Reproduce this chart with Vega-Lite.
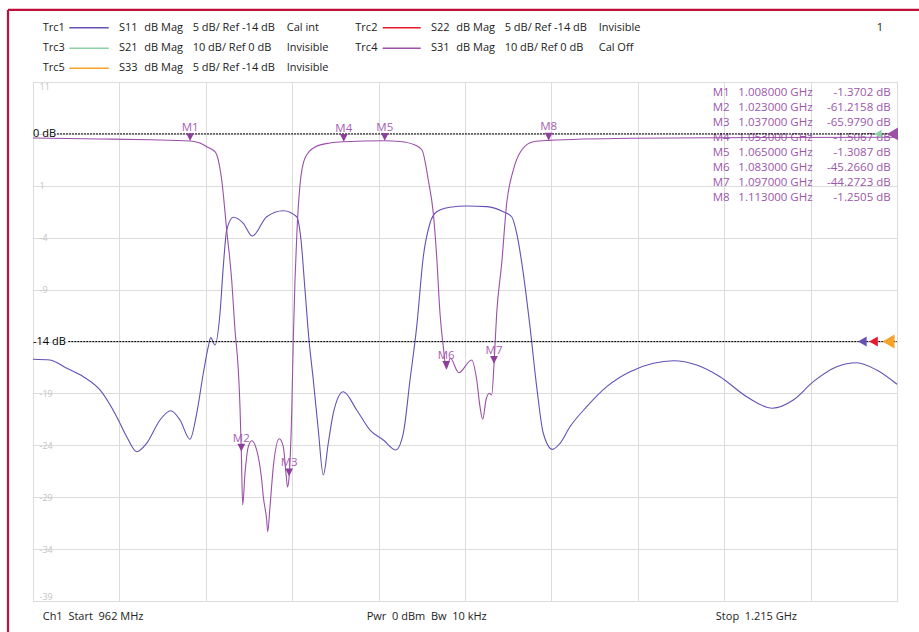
{
  "$schema": "https://vega.github.io/schema/vega-lite/v6.json",
  "width": 864,
  "height": 519,
  "autosize": {"type": "none"},
  "padding": {"left": 33, "top": 82, "right": 22, "bottom": 31},
  "background": "#ffffff",
  "config": {"view": {"stroke": "#dcdcdc", "strokeWidth": 1}, "font": "Open Sans", "text": {"font": "Open Sans", "fontSize": 11, "color": "#222222", "align": "left", "baseline": "middle"}},
  "data": {"values": [{}]},
  "datasets": {
    "s11": [
      {"f": 962.0, "dB": -15.71}, {"f": 966.98, "dB": -15.78}, {"f": 971.87, "dB": -16.58}, {"f": 976.73, "dB": -17.39},
      {"f": 981.62, "dB": -18.67}, {"f": 986.51, "dB": -21.24}, {"f": 989.44, "dB": -23.17}, {"f": 992.37, "dB": -24.62},
      {"f": 995.29, "dB": -23.81}, {"f": 999.19, "dB": -21.56}, {"f": 1002.32, "dB": -20.67}, {"f": 1005.05, "dB": -21.56},
      {"f": 1007.97, "dB": -23.42}, {"f": 1009.94, "dB": -20.92}, {"f": 1011.87, "dB": -17.06}, {"f": 1013.33, "dB": -14.5},
      {"f": 1014.04, "dB": -13.63}, {"f": 1015.29, "dB": -14.34}, {"f": 1016.76, "dB": -11.28}, {"f": 1017.72, "dB": -6.79},
      {"f": 1018.72, "dB": -3.26}, {"f": 1020.65, "dB": -2.03}, {"f": 1023.58, "dB": -2.61}, {"f": 1026.22, "dB": -3.84},
      {"f": 1030.43, "dB": -1.98}, {"f": 1035.3, "dB": -1.4}, {"f": 1039.22, "dB": -1.98}, {"f": 1040.48, "dB": -4.22},
      {"f": 1041.65, "dB": -9.04}, {"f": 1042.82, "dB": -13.86}, {"f": 1044.08, "dB": -17.71}, {"f": 1045.54, "dB": -22.53},
      {"f": 1047.01, "dB": -26.86}, {"f": 1048.47, "dB": -23.78}, {"f": 1049.94, "dB": -20.89}, {"f": 1052.86, "dB": -18.84},
      {"f": 1056.79, "dB": -20.6}, {"f": 1060.68, "dB": -22.53}, {"f": 1064.58, "dB": -23.49}, {"f": 1068.21, "dB": -24.45},
      {"f": 1070.43, "dB": -22.84}, {"f": 1072.4, "dB": -17.71}, {"f": 1074.36, "dB": -12.57}, {"f": 1076.29, "dB": -5.83},
      {"f": 1078.25, "dB": -2.61}, {"f": 1080.21, "dB": -1.5}, {"f": 1084.11, "dB": -1.07}, {"f": 1089.0, "dB": -0.95},
      {"f": 1094.86, "dB": -1.01}, {"f": 1099.72, "dB": -1.5}, {"f": 1102.18, "dB": -1.98}, {"f": 1103.64, "dB": -3.58},
      {"f": 1105.57, "dB": -7.43}, {"f": 1107.53, "dB": -12.57}, {"f": 1109.49, "dB": -18.35}, {"f": 1111.43, "dB": -22.84},
      {"f": 1114.12, "dB": -24.39}, {"f": 1116.32, "dB": -23.81}, {"f": 1119.25, "dB": -22.21}, {"f": 1124.14, "dB": -20.28},
      {"f": 1130.0, "dB": -18.35}, {"f": 1136.82, "dB": -16.91}, {"f": 1143.64, "dB": -16.1}, {"f": 1149.5, "dB": -15.85},
      {"f": 1156.35, "dB": -16.26}, {"f": 1163.17, "dB": -17.39}, {"f": 1170.99, "dB": -19.32}, {"f": 1178.49, "dB": -20.43},
      {"f": 1184.63, "dB": -19.64}, {"f": 1190.49, "dB": -17.87}, {"f": 1197.34, "dB": -16.43}, {"f": 1203.2, "dB": -16.04},
      {"f": 1209.06, "dB": -16.75}, {"f": 1215.0, "dB": -18.12}
    ],
    "s31": [
      {"f": 962.0, "dB": -0.79}, {"f": 981.62, "dB": -0.98}, {"f": 996.26, "dB": -1.14}, {"f": 1008.0, "dB": -1.37},
      {"f": 1010.9, "dB": -1.75}, {"f": 1012.86, "dB": -2.47}, {"f": 1015.29, "dB": -3.43}, {"f": 1016.26, "dB": -5.03},
      {"f": 1017.26, "dB": -8.88}, {"f": 1018.72, "dB": -18.52}, {"f": 1020.18, "dB": -28.15}, {"f": 1021.15, "dB": -37.78},
      {"f": 1022.12, "dB": -45.49}, {"f": 1022.61, "dB": -52.56}, {"f": 1023.0, "dB": -61.22}, {"f": 1023.4, "dB": -71.5},
      {"f": 1024.08, "dB": -65.4}, {"f": 1025.05, "dB": -60.27}, {"f": 1026.04, "dB": -59.11}, {"f": 1027.51, "dB": -60.91},
      {"f": 1028.97, "dB": -66.69}, {"f": 1029.44, "dB": -69.9}, {"f": 1030.43, "dB": -74.39}, {"f": 1030.73, "dB": -76.65},
      {"f": 1031.4, "dB": -71.83}, {"f": 1032.37, "dB": -64.12}, {"f": 1034.12, "dB": -58.73}, {"f": 1035.29, "dB": -60.27},
      {"f": 1036.08, "dB": -65.4}, {"f": 1036.52, "dB": -68.03}, {"f": 1037.0, "dB": -65.98}, {"f": 1037.75, "dB": -53.83},
      {"f": 1038.22, "dB": -39.71}, {"f": 1038.72, "dB": -28.15}, {"f": 1039.31, "dB": -18.52}, {"f": 1040.18, "dB": -9.85},
      {"f": 1041.65, "dB": -4.64}, {"f": 1044.58, "dB": -2.52}, {"f": 1048.97, "dB": -1.75}, {"f": 1053.0, "dB": -1.51},
      {"f": 1065.0, "dB": -1.31}, {"f": 1069.47, "dB": -1.46}, {"f": 1073.86, "dB": -2.14}, {"f": 1075.91, "dB": -3.1},
      {"f": 1077.75, "dB": -8.88}, {"f": 1079.22, "dB": -15.3}, {"f": 1080.21, "dB": -23.66}, {"f": 1081.18, "dB": -34.57},
      {"f": 1082.14, "dB": -41.0}, {"f": 1083.0, "dB": -45.27}, {"f": 1084.22, "dB": -43.24}, {"f": 1086.66, "dB": -46.01},
      {"f": 1090.46, "dB": -43.56}, {"f": 1091.93, "dB": -47.42}, {"f": 1092.89, "dB": -52.56}, {"f": 1093.68, "dB": -54.99},
      {"f": 1094.65, "dB": -51.27}, {"f": 1095.62, "dB": -49.98}, {"f": 1096.32, "dB": -50.31}, {"f": 1097.0, "dB": -44.27},
      {"f": 1097.78, "dB": -34.57}, {"f": 1099.25, "dB": -24.93}, {"f": 1100.71, "dB": -13.37}, {"f": 1102.64, "dB": -6.96},
      {"f": 1105.1, "dB": -3.1}, {"f": 1108.5, "dB": -1.5}, {"f": 1113.0, "dB": -1.25}, {"f": 1136.82, "dB": -0.85},
      {"f": 1174.88, "dB": -0.69}, {"f": 1215.0, "dB": -0.65}
    ],
    "markers": [
      {"m": "M1", "f": 1008, "dB": -1.3702},
      {"m": "M2", "f": 1023, "dB": -61.2158},
      {"m": "M3", "f": 1037, "dB": -65.979},
      {"m": "M4", "f": 1053, "dB": -1.5067},
      {"m": "M5", "f": 1065, "dB": -1.3087},
      {"m": "M6", "f": 1083, "dB": -45.266},
      {"m": "M7", "f": 1097, "dB": -44.2723},
      {"m": "M8", "f": 1113, "dB": -1.2505}
    ]
  },
  "layer": [
    {
      "layer": [
        {
          "data": {"name": "s11"},
          "mark": {"type": "line", "color": "#6650B4", "strokeWidth": 1.1, "interpolate": "monotone"},
          "encoding": {
            "x": {"field": "f", "type": "quantitative", "scale": {"domain": [962, 1215], "nice": false, "zero": false},
              "axis": {"values": [962, 987.3, 1012.6, 1037.9, 1063.2, 1088.5, 1113.8, 1139.1, 1164.4, 1189.7, 1215], "labels": false, "ticks": false, "domain": false, "title": null, "grid": true, "gridColor": "#dcdcdc"}},
            "y": {"field": "dB", "type": "quantitative", "scale": {"domain": [-39, 11], "nice": false, "zero": false},
              "axis": {"values": [11, 6, 1, -4, -9, -14, -19, -24, -29, -34, -39], "labelExpr": "datum.value == 6 || datum.value == -14 ? '' : '' + datum.value", "labelAlign": "left", "labelPadding": -6, "ticks": false, "domain": false, "title": null, "grid": true, "gridColor": "#dcdcdc", "labelColor": "#c4c4c4", "labelFontSize": 9, "labelFlush": true}}
          }
        },
        {"mark": {"type": "rule", "color": "#000000", "strokeDash": [2, 1], "strokeWidth": 1}, "encoding": {"x": {"datum": 972.34}, "x2": {"datum": 1215}, "y": {"datum": -14}}},
        {"mark": {"type": "text", "text": "-14 dB", "color": "#000000"}, "encoding": {"x": {"datum": 962}, "y": {"datum": -14}}},
        {"mark": {"type": "point", "shape": "triangle-left", "filled": true, "opacity": 1, "size": 100, "color": "#6650B4"}, "encoding": {"x": {"datum": 1204.84}, "y": {"datum": -14}}},
        {"mark": {"type": "point", "shape": "triangle-left", "filled": true, "opacity": 1, "size": 100, "color": "#E8192C"}, "encoding": {"x": {"datum": 1208.12}, "y": {"datum": -14}}},
        {"mark": {"type": "point", "shape": "triangle-left", "filled": true, "opacity": 1, "size": 196, "color": "#F6A32B"}, "encoding": {"x": {"datum": 1212.51}, "y": {"datum": -14}}},

        {"data": {"values": [{"t": "M1"}]}, "mark": {"type": "text", "fontSize": 11.5, "color": "#9C56AA"}, "encoding": {"x": {"datum": 1161.03}, "y": {"datum": 9.91}, "text": {"field": "t"}}},
        {"data": {"values": [{"t": "1.008000 GHz"}]}, "mark": {"type": "text", "fontSize": 11.5, "color": "#9C56AA"}, "encoding": {"x": {"datum": 1168.53}, "y": {"datum": 9.91}, "text": {"field": "t"}}},
        {"data": {"values": [{"t": "-1.3702 dB"}]}, "mark": {"type": "text", "align": "right", "fontSize": 11.5, "color": "#9C56AA"}, "encoding": {"x": {"datum": 1213.15}, "y": {"datum": 9.91}, "text": {"field": "t"}}},
        {"data": {"values": [{"t": "M2"}]}, "mark": {"type": "text", "fontSize": 11.5, "color": "#9C56AA"}, "encoding": {"x": {"datum": 1161.03}, "y": {"datum": 8.47}, "text": {"field": "t"}}},
        {"data": {"values": [{"t": "1.023000 GHz"}]}, "mark": {"type": "text", "fontSize": 11.5, "color": "#9C56AA"}, "encoding": {"x": {"datum": 1168.53}, "y": {"datum": 8.47}, "text": {"field": "t"}}},
        {"data": {"values": [{"t": "-61.2158 dB"}]}, "mark": {"type": "text", "align": "right", "fontSize": 11.5, "color": "#9C56AA"}, "encoding": {"x": {"datum": 1213.15}, "y": {"datum": 8.47}, "text": {"field": "t"}}},
        {"data": {"values": [{"t": "M3"}]}, "mark": {"type": "text", "fontSize": 11.5, "color": "#9C56AA"}, "encoding": {"x": {"datum": 1161.03}, "y": {"datum": 7.02}, "text": {"field": "t"}}},
        {"data": {"values": [{"t": "1.037000 GHz"}]}, "mark": {"type": "text", "fontSize": 11.5, "color": "#9C56AA"}, "encoding": {"x": {"datum": 1168.53}, "y": {"datum": 7.02}, "text": {"field": "t"}}},
        {"data": {"values": [{"t": "-65.9790 dB"}]}, "mark": {"type": "text", "align": "right", "fontSize": 11.5, "color": "#9C56AA"}, "encoding": {"x": {"datum": 1213.15}, "y": {"datum": 7.02}, "text": {"field": "t"}}},
        {"data": {"values": [{"t": "M4"}]}, "mark": {"type": "text", "fontSize": 11.5, "color": "#9C56AA"}, "encoding": {"x": {"datum": 1161.03}, "y": {"datum": 5.58}, "text": {"field": "t"}}},
        {"data": {"values": [{"t": "1.053000 GHz"}]}, "mark": {"type": "text", "fontSize": 11.5, "color": "#9C56AA"}, "encoding": {"x": {"datum": 1168.53}, "y": {"datum": 5.58}, "text": {"field": "t"}}},
        {"data": {"values": [{"t": "-1.5067 dB"}]}, "mark": {"type": "text", "align": "right", "fontSize": 11.5, "color": "#9C56AA"}, "encoding": {"x": {"datum": 1213.15}, "y": {"datum": 5.58}, "text": {"field": "t"}}},
        {"data": {"values": [{"t": "M5"}]}, "mark": {"type": "text", "fontSize": 11.5, "color": "#9C56AA"}, "encoding": {"x": {"datum": 1161.03}, "y": {"datum": 4.13}, "text": {"field": "t"}}},
        {"data": {"values": [{"t": "1.065000 GHz"}]}, "mark": {"type": "text", "fontSize": 11.5, "color": "#9C56AA"}, "encoding": {"x": {"datum": 1168.53}, "y": {"datum": 4.13}, "text": {"field": "t"}}},
        {"data": {"values": [{"t": "-1.3087 dB"}]}, "mark": {"type": "text", "align": "right", "fontSize": 11.5, "color": "#9C56AA"}, "encoding": {"x": {"datum": 1213.15}, "y": {"datum": 4.13}, "text": {"field": "t"}}},
        {"data": {"values": [{"t": "M6"}]}, "mark": {"type": "text", "fontSize": 11.5, "color": "#9C56AA"}, "encoding": {"x": {"datum": 1161.03}, "y": {"datum": 2.69}, "text": {"field": "t"}}},
        {"data": {"values": [{"t": "1.083000 GHz"}]}, "mark": {"type": "text", "fontSize": 11.5, "color": "#9C56AA"}, "encoding": {"x": {"datum": 1168.53}, "y": {"datum": 2.69}, "text": {"field": "t"}}},
        {"data": {"values": [{"t": "-45.2660 dB"}]}, "mark": {"type": "text", "align": "right", "fontSize": 11.5, "color": "#9C56AA"}, "encoding": {"x": {"datum": 1213.15}, "y": {"datum": 2.69}, "text": {"field": "t"}}},
        {"data": {"values": [{"t": "M7"}]}, "mark": {"type": "text", "fontSize": 11.5, "color": "#9C56AA"}, "encoding": {"x": {"datum": 1161.03}, "y": {"datum": 1.24}, "text": {"field": "t"}}},
        {"data": {"values": [{"t": "1.097000 GHz"}]}, "mark": {"type": "text", "fontSize": 11.5, "color": "#9C56AA"}, "encoding": {"x": {"datum": 1168.53}, "y": {"datum": 1.24}, "text": {"field": "t"}}},
        {"data": {"values": [{"t": "-44.2723 dB"}]}, "mark": {"type": "text", "align": "right", "fontSize": 11.5, "color": "#9C56AA"}, "encoding": {"x": {"datum": 1213.15}, "y": {"datum": 1.24}, "text": {"field": "t"}}},
        {"data": {"values": [{"t": "M8"}]}, "mark": {"type": "text", "fontSize": 11.5, "color": "#9C56AA"}, "encoding": {"x": {"datum": 1161.03}, "y": {"datum": -0.2}, "text": {"field": "t"}}},
        {"data": {"values": [{"t": "1.113000 GHz"}]}, "mark": {"type": "text", "fontSize": 11.5, "color": "#9C56AA"}, "encoding": {"x": {"datum": 1168.53}, "y": {"datum": -0.2}, "text": {"field": "t"}}},
        {"data": {"values": [{"t": "-1.2505 dB"}]}, "mark": {"type": "text", "align": "right", "fontSize": 11.5, "color": "#9C56AA"}, "encoding": {"x": {"datum": 1213.15}, "y": {"datum": -0.2}, "text": {"field": "t"}}},

        {"data": {"values": [{"t": "Trc1"}]}, "mark": {"type": "text"}, "encoding": {"x": {"datum": 964.84}, "y": {"datum": 16.23}, "text": {"field": "t"}}},
        {"mark": {"type": "rule", "strokeWidth": 1.5, "color": "#6650B4"}, "encoding": {"x": {"datum": 972.63}, "x2": {"datum": 984.17}, "y": {"datum": 16.23}}},
        {"data": {"values": [{"t": "S11"}]}, "mark": {"type": "text"}, "encoding": {"x": {"datum": 987.18}, "y": {"datum": 16.23}, "text": {"field": "t"}}},
        {"data": {"values": [{"t": "dB Mag"}]}, "mark": {"type": "text"}, "encoding": {"x": {"datum": 994.59}, "y": {"datum": 16.23}, "text": {"field": "t"}}},
        {"data": {"values": [{"t": "5 dB/ Ref -14 dB"}]}, "mark": {"type": "text"}, "encoding": {"x": {"datum": 1008.76}, "y": {"datum": 16.23}, "text": {"field": "t"}}},
        {"data": {"values": [{"t": "Cal int"}]}, "mark": {"type": "text"}, "encoding": {"x": {"datum": 1036.29}, "y": {"datum": 16.23}, "text": {"field": "t"}}},

        {"data": {"values": [{"t": "Trc3"}]}, "mark": {"type": "text"}, "encoding": {"x": {"datum": 964.84}, "y": {"datum": 14.25}, "text": {"field": "t"}}},
        {"mark": {"type": "rule", "strokeWidth": 1.5, "color": "#8DD1A6"}, "encoding": {"x": {"datum": 972.63}, "x2": {"datum": 984.17}, "y": {"datum": 14.25}}},
        {"data": {"values": [{"t": "S21"}]}, "mark": {"type": "text"}, "encoding": {"x": {"datum": 987.18}, "y": {"datum": 14.25}, "text": {"field": "t"}}},
        {"data": {"values": [{"t": "dB Mag"}]}, "mark": {"type": "text"}, "encoding": {"x": {"datum": 994.59}, "y": {"datum": 14.25}, "text": {"field": "t"}}},
        {"data": {"values": [{"t": "10 dB/ Ref 0 dB"}]}, "mark": {"type": "text"}, "encoding": {"x": {"datum": 1008.76}, "y": {"datum": 14.25}, "text": {"field": "t"}}},
        {"data": {"values": [{"t": "Invisible"}]}, "mark": {"type": "text"}, "encoding": {"x": {"datum": 1036.29}, "y": {"datum": 14.25}, "text": {"field": "t"}}},

        {"data": {"values": [{"t": "Trc5"}]}, "mark": {"type": "text"}, "encoding": {"x": {"datum": 964.84}, "y": {"datum": 12.32}, "text": {"field": "t"}}},
        {"mark": {"type": "rule", "strokeWidth": 1.5, "color": "#F6A32B"}, "encoding": {"x": {"datum": 972.63}, "x2": {"datum": 984.17}, "y": {"datum": 12.32}}},
        {"data": {"values": [{"t": "S33"}]}, "mark": {"type": "text"}, "encoding": {"x": {"datum": 987.18}, "y": {"datum": 12.32}, "text": {"field": "t"}}},
        {"data": {"values": [{"t": "dB Mag"}]}, "mark": {"type": "text"}, "encoding": {"x": {"datum": 994.59}, "y": {"datum": 12.32}, "text": {"field": "t"}}},
        {"data": {"values": [{"t": "5 dB/ Ref -14 dB"}]}, "mark": {"type": "text"}, "encoding": {"x": {"datum": 1008.76}, "y": {"datum": 12.32}, "text": {"field": "t"}}},
        {"data": {"values": [{"t": "Invisible"}]}, "mark": {"type": "text"}, "encoding": {"x": {"datum": 1036.29}, "y": {"datum": 12.32}, "text": {"field": "t"}}},

        {"data": {"values": [{"t": "Trc2"}]}, "mark": {"type": "text"}, "encoding": {"x": {"datum": 1056.38}, "y": {"datum": 16.23}, "text": {"field": "t"}}},
        {"mark": {"type": "rule", "strokeWidth": 1.5, "color": "#E8192C"}, "encoding": {"x": {"datum": 1064.4}, "x2": {"datum": 1075.53}, "y": {"datum": 16.23}}},
        {"data": {"values": [{"t": "S22"}]}, "mark": {"type": "text"}, "encoding": {"x": {"datum": 1078.54}, "y": {"datum": 16.23}, "text": {"field": "t"}}},
        {"data": {"values": [{"t": "dB Mag"}]}, "mark": {"type": "text"}, "encoding": {"x": {"datum": 1085.95}, "y": {"datum": 16.23}, "text": {"field": "t"}}},
        {"data": {"values": [{"t": "5 dB/ Ref -14 dB"}]}, "mark": {"type": "text"}, "encoding": {"x": {"datum": 1100.12}, "y": {"datum": 16.23}, "text": {"field": "t"}}},
        {"data": {"values": [{"t": "Invisible"}]}, "mark": {"type": "text"}, "encoding": {"x": {"datum": 1127.65}, "y": {"datum": 16.23}, "text": {"field": "t"}}},

        {"data": {"values": [{"t": "Trc4"}]}, "mark": {"type": "text"}, "encoding": {"x": {"datum": 1056.38}, "y": {"datum": 14.25}, "text": {"field": "t"}}},
        {"mark": {"type": "rule", "strokeWidth": 1.5, "color": "#9B4FA8"}, "encoding": {"x": {"datum": 1064.4}, "x2": {"datum": 1075.53}, "y": {"datum": 14.25}}},
        {"data": {"values": [{"t": "S31"}]}, "mark": {"type": "text"}, "encoding": {"x": {"datum": 1078.54}, "y": {"datum": 14.25}, "text": {"field": "t"}}},
        {"data": {"values": [{"t": "dB Mag"}]}, "mark": {"type": "text"}, "encoding": {"x": {"datum": 1085.95}, "y": {"datum": 14.25}, "text": {"field": "t"}}},
        {"data": {"values": [{"t": "10 dB/ Ref 0 dB"}]}, "mark": {"type": "text"}, "encoding": {"x": {"datum": 1100.12}, "y": {"datum": 14.25}, "text": {"field": "t"}}},
        {"data": {"values": [{"t": "Cal Off"}]}, "mark": {"type": "text"}, "encoding": {"x": {"datum": 1127.65}, "y": {"datum": 14.25}, "text": {"field": "t"}}},

        {"mark": {"type": "text", "text": "1", "align": "right"}, "encoding": {"x": {"datum": 1210.9}, "y": {"datum": 16.23}}},
        {"mark": {"type": "text", "text": "Ch1\u00a0\u00a0Start\u00a0\u00a0962 MHz"}, "encoding": {"x": {"datum": 964.84}, "y": {"datum": -40.51}}},
        {"mark": {"type": "text", "text": "Pwr\u00a0\u00a00 dBm\u00a0\u00a0Bw\u00a0\u00a010 kHz"}, "encoding": {"x": {"datum": 1059.72}, "y": {"datum": -40.51}}},
        {"mark": {"type": "text", "text": "Stop\u00a0\u00a01.215 GHz", "align": "right"}, "encoding": {"x": {"datum": 1185.72}, "y": {"datum": -40.51}}},

        {"mark": {"type": "rule", "color": "#C0103A", "strokeWidth": 2.2}, "encoding": {"x": {"datum": 954.68}, "x2": {"datum": 1221.5}, "y": {"datum": 17.94}}},
        {"mark": {"type": "rule", "color": "#C0103A", "strokeWidth": 2.2}, "encoding": {"x": {"datum": 954.68}, "y": {"datum": 17.94}, "y2": {"datum": -42.3}}}
      ]
    },
    {
      "layer": [
        {
          "data": {"name": "s31"},
          "mark": {"type": "line", "color": "#9B4FA8", "strokeWidth": 1.1, "interpolate": "monotone"},
          "encoding": {
            "x": {"field": "f", "type": "quantitative"},
            "y": {"field": "dB", "type": "quantitative", "scale": {"domain": [-90, 10], "nice": false, "zero": false}, "axis": null}
          }
        },
        {"mark": {"type": "rule", "color": "#000000", "strokeDash": [2, 1], "strokeWidth": 1}, "encoding": {"x": {"datum": 969.03}, "x2": {"datum": 1215}, "y": {"datum": 0}}},
        {"mark": {"type": "text", "text": "0 dB", "color": "#000000"}, "encoding": {"x": {"datum": 962}, "y": {"datum": 0}}},
        {"mark": {"type": "point", "shape": "triangle-left", "filled": true, "opacity": 1, "size": 70, "color": "#8DD1A6"}, "encoding": {"x": {"datum": 1209.44}, "y": {"datum": 0}}},
        {"mark": {"type": "point", "shape": "triangle-left", "filled": true, "opacity": 1, "size": 159, "color": "#9B4FA8"}, "encoding": {"x": {"datum": 1213.69}, "y": {"datum": 0}}},
        {
          "data": {"name": "markers"},
          "mark": {"type": "point", "shape": "M-1,-2L1,-2L0,0Z", "filled": true, "opacity": 1, "size": 60, "color": "#8E3F9B"},
          "encoding": {"x": {"field": "f", "type": "quantitative"}, "y": {"field": "dB", "type": "quantitative"}}
        },
        {
          "data": {"name": "markers"},
          "mark": {"type": "text", "align": "center", "baseline": "alphabetic", "dy": -10, "fontSize": 11.5, "color": "#A65DB3"},
          "encoding": {"x": {"field": "f", "type": "quantitative"}, "y": {"field": "dB", "type": "quantitative"}, "text": {"field": "m"}}
        }
      ]
    }
  ],
  "resolve": {"scale": {"y": "independent"}, "axis": {"y": "independent"}}
}
